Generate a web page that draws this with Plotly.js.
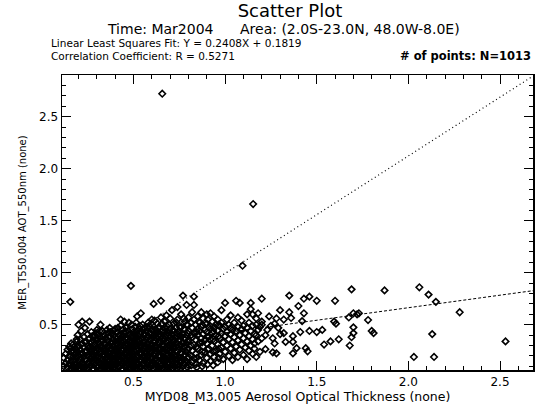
<!DOCTYPE html>
<html>
<head>
<meta charset="utf-8">
<script src="https://cdn.plot.ly/plotly-3.0.1.min.js"></script>
<style>html,body{margin:0;padding:0;background:#fff;}</style>
</head>
<body>
<div id="chart" style="width:538px;height:404px;"></div>
<script>
// ---- Data ----
// columns: [x, [y values at that x]]
const colsA = [
  [0.12,[0.10,0.18]],[0.13,[0.13,0.22]],[0.14,[0.09,0.16,0.26]],[0.15,[0.12,0.20,0.29]],
  [0.16,[0.08,0.15,0.24,0.32]],[0.17,[0.11,0.19,0.31]],[0.18,[0.09,0.14,0.22,0.27]],
  [0.19,[0.12,0.18,0.25,0.34,0.36]],[0.20,[0.08,0.15,0.21,0.30,0.50]],[0.21,[0.11,0.17,0.26,0.36]],
  [0.22,[0.09,0.14,0.23,0.32,0.53]],[0.23,[0.12,0.19,0.28,0.38]],[0.24,[0.10,0.16,0.25,0.34]],
  [0.25,[0.08,0.21,0.30,0.41]]
];
const colsB = [
  [0.26,[0.09,0.15,0.22,0.29,0.37,0.53]],[0.27,[0.11,0.18,0.25,0.33,0.43]],[0.28,[0.08,0.14,0.20,0.27,0.35]],
  [0.29,[0.12,0.17,0.24,0.31,0.39]],[0.30,[0.09,0.16,0.21,0.28,0.36,0.45]],[0.31,[0.10,0.19,0.26,0.33,0.41]],
  [0.32,[0.08,0.13,0.22,0.30,0.38,0.50]],[0.33,[0.11,0.17,0.24,0.29,0.35,0.44]],[0.34,[0.09,0.15,0.21,0.27,0.32,0.40]],
  [0.35,[0.12,0.18,0.25,0.31,0.37]],[0.36,[0.08,0.14,0.20,0.28,0.34,0.42]],[0.37,[0.10,0.16,0.23,0.30,0.39,0.47]],
  [0.38,[0.09,0.13,0.19,0.26,0.33,0.41]],[0.39,[0.11,0.17,0.22,0.29,0.36,0.44]],[0.40,[0.08,0.15,0.21,0.27,0.34,0.38,0.46]],
  [0.41,[0.12,0.18,0.24,0.31,0.37,0.43]],[0.42,[0.09,0.14,0.20,0.28,0.35,0.40]],[0.43,[0.11,0.16,0.23,0.30,0.36,0.49,0.55]],
  [0.44,[0.08,0.13,0.19,0.25,0.33,0.39,0.45]],[0.45,[0.10,0.17,0.22,0.29,0.34,0.42,0.53]],[0.46,[0.09,0.15,0.21,0.27,0.32,0.38,0.47]],
  [0.47,[0.12,0.18,0.24,0.31,0.37,0.44]],[0.48,[0.08,0.14,0.20,0.26,0.35,0.41]],[0.49,[0.11,0.16,0.23,0.29,0.33,0.39,0.50]],
  [0.50,[0.09,0.13,0.19,0.25,0.30,0.36,0.43]]
];
const colsC = [
  [0.51,[0.10,0.17,0.24,0.32,0.40,0.48]],[0.52,[0.08,0.14,0.21,0.28,0.35,0.44,0.58]],[0.53,[0.12,0.19,0.26,0.33,0.39,0.46]],
  [0.54,[0.09,0.16,0.22,0.30,0.37,0.43,0.61]],[0.55,[0.11,0.18,0.25,0.31,0.38,0.50]],[0.56,[0.08,0.15,0.20,0.27,0.34,0.41,0.47]],
  [0.57,[0.10,0.17,0.23,0.29,0.36,0.44]],[0.58,[0.13,0.19,0.26,0.32,0.39,0.52]],[0.59,[0.09,0.15,0.22,0.28,0.35,0.42,0.48]],
  [0.60,[0.11,0.18,0.24,0.31,0.37,0.45,0.55]],[0.61,[0.08,0.14,0.21,0.27,0.33,0.40,0.70]],[0.62,[0.12,0.17,0.25,0.30,0.38,0.46]],
  [0.63,[0.10,0.16,0.23,0.29,0.36,0.43,0.51]],[0.64,[0.09,0.19,0.26,0.33,0.41,0.48]],[0.65,[0.13,0.20,0.27,0.34,0.39,0.57,0.73]],
  [0.66,[0.08,0.15,0.22,0.31,0.37,0.45]],[0.67,[0.11,0.18,0.24,0.30,0.36,0.43,0.53]],[0.68,[0.10,0.17,0.26,0.33,0.40,0.49,0.59]],
  [0.69,[0.14,0.21,0.28,0.35,0.42]],[0.70,[0.09,0.16,0.23,0.29,0.38,0.46,0.56]],[0.71,[0.12,0.19,0.25,0.32,0.41,0.64]],
  [0.72,[0.10,0.18,0.27,0.34,0.44,0.51]],[0.73,[0.13,0.20,0.29,0.37,0.47]],[0.74,[0.08,0.16,0.24,0.31,0.39,0.55,0.67]],
  [0.75,[0.11,0.19,0.26,0.35,0.43]],[0.76,[0.14,0.22,0.30,0.38,0.48,0.60]],[0.77,[0.10,0.17,0.27,0.33,0.41,0.78]],
  [0.78,[0.12,0.21,0.29,0.36,0.45,0.53]],[0.79,[0.15,0.24,0.32,0.40,0.50,0.69]],[0.80,[0.11,0.19,0.27,0.35,0.44,0.57]]
];
const colsD = [
  [0.82,[0.14,0.25,0.38,0.47,0.62]],[0.83,[0.18,0.31,0.42,0.55,0.69,0.77]],[0.84,[0.12,0.22,0.35,0.50]],
  [0.85,[0.27,0.40,0.46,0.58]],[0.86,[0.16,0.33,0.44,0.52]],[0.87,[0.21,0.37,0.48,0.62]],[0.88,[0.13,0.29,0.41,0.56]],
  [0.89,[0.24,0.35,0.45]],[0.90,[0.18,0.32,0.43,0.51,0.60]],[0.91,[0.27,0.39,0.48]],[0.92,[0.15,0.22,0.36,0.46,0.61]],
  [0.93,[0.30,0.42,0.53]],[0.94,[0.19,0.34,0.47,0.58]],[0.95,[0.25,0.40,0.50]],[0.96,[0.14,0.31,0.44,0.55]],
  [0.97,[0.22,0.37,0.49]],[0.98,[0.28,0.42,0.52,0.64]],[0.99,[0.17,0.33,0.46]],[1.00,[0.24,0.39,0.48,0.71]],
  [1.01,[0.30,0.43,0.55]],[1.02,[0.20,0.36,0.50]],[1.03,[0.27,0.41,0.47,0.59]],[1.04,[0.16,0.33,0.45]],
  [1.05,[0.23,0.38,0.52]],[1.06,[0.29,0.44,0.73]],[1.07,[0.19,0.35,0.48,0.57]],[1.08,[0.26,0.40,0.71]],
  [1.09,[0.31,0.46,0.54]],[1.10,[0.21,0.37,0.49]],[1.11,[0.28,0.42]],[1.12,[0.17,0.34,0.47,0.60]],
  [1.13,[0.25,0.39,0.52]],[1.14,[0.30,0.44,0.65,0.71]],[1.15,[0.22,0.36,0.49,0.60]],[1.16,[0.27,0.32,0.41]],
  [1.17,[0.19,0.40,0.50,0.56]],[1.18,[0.34,0.45,0.61]],[1.19,[0.24,0.48]],[1.20,[0.37,0.50,0.53,0.75]]
];
const colsE = [
  [0.155,[0.11,0.19,0.27]],[0.175,[0.08,0.16,0.24,0.29]],[0.195,[0.10,0.20,0.28,0.40]],[0.215,[0.13,0.21,0.31,0.44]],
  [0.235,[0.09,0.17,0.24,0.33,0.47]],[0.255,[0.12,0.19,0.27,0.36]],[0.275,[0.07,0.15,0.22,0.30,0.39]],
  [0.295,[0.10,0.19,0.26,0.35,0.42]],[0.315,[0.13,0.17,0.24,0.31,0.44]],[0.335,[0.08,0.14,0.20,0.26,0.38]],
  [0.355,[0.10,0.16,0.22,0.29,0.35,0.45]],[0.375,[0.07,0.13,0.19,0.27,0.33,0.43]],[0.395,[0.09,0.14,0.20,0.25,0.31,0.40]],
  [0.415,[0.10,0.16,0.21,0.27,0.34,0.47]],[0.435,[0.07,0.13,0.19,0.26,0.33,0.41]],[0.455,[0.12,0.18,0.24,0.30,0.36,0.44]],
  [0.475,[0.09,0.15,0.21,0.28,0.34,0.40,0.52]],[0.495,[0.07,0.14,0.20,0.27,0.32,0.38,0.46]],
  [0.515,[0.12,0.19,0.26,0.30,0.37,0.43,0.52]],[0.535,[0.08,0.15,0.23,0.29,0.35,0.41,0.49]],
  [0.555,[0.13,0.21,0.28,0.33,0.40,0.45]],[0.575,[0.08,0.14,0.20,0.26,0.32,0.38,0.47]],
  [0.595,[0.12,0.18,0.25,0.30,0.40,0.51]],[0.615,[0.10,0.16,0.23,0.29,0.35,0.44,0.54]],
  [0.635,[0.07,0.14,0.20,0.27,0.33,0.39,0.47]],[0.655,[0.11,0.17,0.24,0.30,0.36,0.43,0.51]],
  [0.675,[0.08,0.15,0.21,0.28,0.38,0.46]],[0.695,[0.12,0.18,0.25,0.31,0.40,0.50]],
  [0.715,[0.08,0.15,0.22,0.29,0.36,0.45]],[0.735,[0.11,0.17,0.25,0.33,0.42,0.52]],
  [0.755,[0.08,0.16,0.23,0.31,0.40,0.47]],[0.775,[0.13,0.20,0.29,0.37,0.46,0.56]],
  [0.795,[0.09,0.18,0.26,0.34,0.42,0.50]],[0.815,[0.11,0.20,0.30,0.40,0.52]],[0.845,[0.09,0.18,0.29,0.43]],
  [0.875,[0.10,0.24,0.33,0.50]],[0.905,[0.12,0.26,0.38,0.55]],[0.935,[0.11,0.24,0.36,0.44]],[0.965,[0.18,0.27,0.39,0.50]]
];
const sparseX = [1.22,1.26,1.28,1.27,1.30,1.30,1.32,1.32,1.33,1.35,1.35,1.36,1.37,1.37,1.37,1.39,1.40,1.41,1.42,1.43,
  1.43,1.44,1.45,1.46,1.46,1.50,1.50,1.53,1.54,1.575,1.595,1.60,1.605,1.62,1.675,1.68,1.69,1.69,1.70,1.70,
  1.70,1.73,1.72,1.78,1.80,1.81,1.87,1.23,1.25,1.24,1.27,1.29,1.22,1.26,1.28,
  2.06,2.11,2.15,2.28,2.13,2.03,2.14,2.53];
const sparseY = [0.265,0.235,0.225,0.32,0.64,0.41,0.42,0.55,0.335,0.78,0.62,0.565,0.39,0.335,0.225,0.275,0.68,0.43,0.535,0.61,
  0.75,0.275,0.245,0.77,0.44,0.73,0.43,0.45,0.31,0.34,0.53,0.73,0.51,0.36,0.57,0.30,0.38,0.84,0.42,0.475,
  0.61,0.61,0.60,0.545,0.44,0.42,0.83,0.45,0.49,0.58,0.51,0.47,0.40,0.37,0.56,
  0.86,0.79,0.72,0.62,0.41,0.19,0.19,0.34];
const outlierX = [0.657,1.153,1.095,0.486,0.155];
const outlierY = [2.72,1.66,1.067,0.874,0.72];

// regression fit (from the header text) and reference line
const fitSlope = 0.2408, fitIntercept = 0.1819;
const refX = [0.20, 2.68];
const refY = [0.09, 2.89];

const xRange = [0.11, 2.68];
const yRange = [0.065, 2.90];

// ---- build ----
function flatten(cols){
  const xs=[], ys=[];
  cols.forEach(c=>c[1].forEach(v=>{xs.push(c[0]); ys.push(v);}));
  return [xs,ys];
}
let X=[], Y=[];
[colsA,colsB,colsC,colsD,colsE].forEach(g=>{const f=flatten(g); X=X.concat(f[0]); Y=Y.concat(f[1]);});
X = X.concat(sparseX, outlierX);
Y = Y.concat(sparseY, outlierY);

const fitX = xRange.slice();
const fitY = fitX.map(v=>fitSlope*v+fitIntercept);

const F = 'DejaVu Sans, sans-serif';
const traces = [
  {x:refX, y:refY, mode:'lines', line:{color:'#000', width:1.2, dash:'1px,3px'}, hoverinfo:'skip'},
  {x:fitX, y:fitY, mode:'lines', line:{color:'#000', width:1, dash:'3px,2px'}, hoverinfo:'skip'},
  {x:X, y:Y, mode:'markers', type:'scatter',
   marker:{symbol:'diamond-open', size:5, color:'#000', line:{color:'#000', width:1.6}}}
];

const axisCommon = {
  showline:true, linecolor:'#000', linewidth:1.5, mirror:'allticks',
  ticks:'inside', ticklen:9, tickwidth:1, tickcolor:'#000',
  tickmode:'linear', tick0:0, dtick:0.5, tickformat:'.1f',
  showgrid:false, zeroline:false,
  minor:{ticks:'inside', ticklen:4, tickwidth:1, tickcolor:'#000', dtick:0.1, tick0:0, showgrid:false},
  tickfont:{family:F, size:12, color:'#000'}
};

const layout = {
  width:538, height:404,
  margin:{l:62, r:5, t:75, b:34},
  paper_bgcolor:'#fff', plot_bgcolor:'#fff',
  showlegend:false,
  title:{text:'Scatter Plot', font:{family:F, size:18, color:'#000'}, x:0.539, xanchor:'center', y:0.974, yanchor:'middle'},
  xaxis:Object.assign({}, axisCommon, {range:xRange,
    title:{text:'MYD08_M3.005 Aerosol Optical Thickness (none)', font:{family:F, size:12.5, color:'#000'}, standoff:0}}),
  yaxis:Object.assign({}, axisCommon, {range:yRange,
    title:{text:'MER_T550.004 AOT_550nm (none)', font:{family:F, size:10, color:'#000'}, standoff:10}}),
  annotations:[
    {text:'Time: Mar2004', xref:'paper', yref:'paper', x:0.0913, y:1.1559, xanchor:'left', yanchor:'middle', showarrow:false, font:{family:F, size:14, color:'#000'}},
    {text:'Area: (2.0S-23.0N, 48.0W-8.0E)', xref:'paper', yref:'paper', x:0.3737, y:1.1559, xanchor:'left', yanchor:'middle', showarrow:false, font:{family:F, size:14, color:'#000'}},
    {text:'Linear Least Squares Fit: Y = 0.2408X + 0.1819', xref:'paper', yref:'paper', x:-0.0255, y:1.1085, xanchor:'left', yanchor:'middle', showarrow:false, borderpad:0, font:{family:F, size:10.5, color:'#000'}},
    {text:'Correlation Coefficient: R = 0.5271', xref:'paper', yref:'paper', x:-0.0255, y:1.0661, xanchor:'left', yanchor:'middle', showarrow:false, borderpad:0, font:{family:F, size:10.5, color:'#000'}},
    {text:'<b># of points: N=1013</b>', xref:'paper', yref:'paper', x:0.998, y:1.0644, xanchor:'right', yanchor:'middle', showarrow:false, borderpad:0, font:{family:F, size:11.5, color:'#000'}}
  ]
};

Plotly.newPlot('chart', traces, layout, {staticPlot:true, displayModeBar:false});
</script>
</body>
</html>
